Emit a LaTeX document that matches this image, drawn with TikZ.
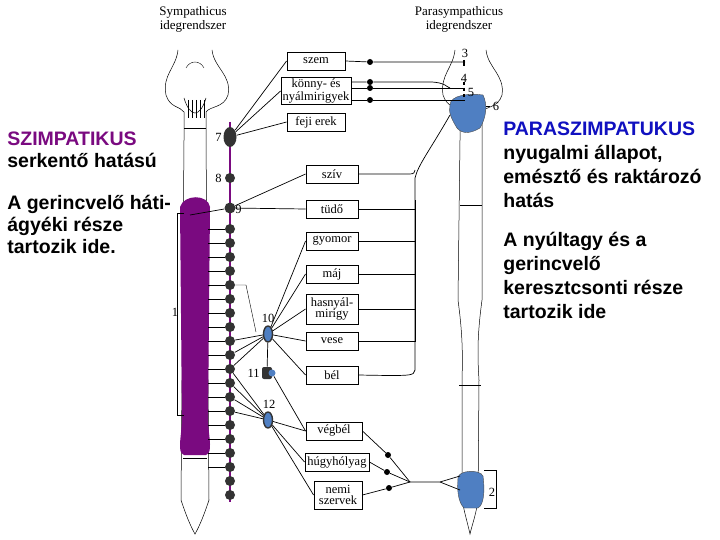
\documentclass[tikz,border=0pt]{standalone}
\usepackage{fontspec}
\usetikzlibrary{shapes.geometric}
\setmainfont{Liberation Serif}
\newfontfamily\arial{Liberation Sans}
\definecolor{purp}{HTML}{7A0A80}
\definecolor{pblue}{HTML}{4F7FC2}
\definecolor{tblue}{HTML}{1010C0}
\begin{document}
\begin{tikzpicture}[x=1pt,y=-1pt,line width=0.7pt,
 org/.style={draw,fill=white,font=\fontsize{12.5}{11}\selectfont,align=center,inner sep=1pt,minimum height=18pt,line width=0.9pt},
 dotn/.style={circle,fill=black,inner sep=0pt,minimum size=6pt},
 cdot/.style={circle,fill=black!80,inner sep=0pt,minimum size=10pt},
 num/.style={font=\fontsize{12.5}{12}\selectfont,inner sep=0pt},
 ttl/.style={font=\fontsize{13}{14}\selectfont,align=center},
 big/.style={font=\arial\bfseries\fontsize{19.5}{22}\selectfont,align=left,anchor=north west,inner sep=0pt}]
\useasboundingbox (0,0) rectangle (720,540);
\fill[white] (0,0) rectangle (720,540);
% titles
\node[ttl] (st) at (193,19) {Sympathicus\\idegrendszer};
\node[ttl] (pt) at (459,19) {Parasympathicus\\idegrendszer};
% left cord
\draw[line width=0.5pt] (178,50) .. controls (176,68) and (162,75) .. (166,95) .. controls (170,108) and (180,106) .. (184,112) -- (184,140) -- (181,500) .. controls (186,515) and (190,525) .. (195,534) .. controls (200,525) and (204,515) .. (209,500) -- (206,140) -- (206,112) .. controls (210,106) and (224,108) .. (228,95) .. controls (232,75) and (214,68) .. (212,50);
\draw[line width=0.4pt] (186,68) .. controls (190,60) and (200,60) .. (204,68);
\draw[line width=0.5pt] (184,98) .. controls (190,118) and (200,118) .. (206,98);
\foreach \x in {188,192,196,200,204}{\draw[line width=0.3pt] (\x,100) -- (\x,118);}
\draw[line width=0.5pt] (184,128) -- (206,128);
\draw[line width=0.8pt] (183,458) -- (207,458);
\fill[purp] (180,207) .. controls (184,194) and (208,194) .. (210,207) -- (208,420) .. controls (209,440) and (213,452) .. (206,455) -- (184,455) .. controls (177,452) and (181,440) .. (182,420) -- cycle;
% bracket 1
\draw[line width=0.4pt] (184,213) -- (177,213) -- (177,415) -- (184,415);
\node[num] (n1) at (175,312) {1};
% chain
\draw[purp,line width=2pt] (230,122) -- (230,502);
\node[cdot,ellipse,minimum width=13pt,minimum height=20pt] (g7) at (230,137) {};
\node[cdot] (g8) at (230,178) {};
\node[cdot,minimum size=11pt] (g9) at (230,208) {};
\node[num,anchor=east] at (222,137) {7};
\node[num,anchor=east] at (222,178) {8};
\node[num,anchor=west] at (235,209) {9};
\foreach \i in {0,...,19}{
  \pgfmathsetmacro\yy{229+\i*14}
  \node[cdot] (c\i) at (230,\yy) {};
}
\foreach \i in {0,...,17}{\draw[line width=0.5pt] (208,229+\i*14) -- (c\i);}
% organ boxes
\node[org,minimum width=58pt] (szem) at (316,61) {szem};
\node[org,minimum width=70pt,inner sep=1pt,minimum height=27pt] (konny) at (316,91) {könny- és\\nyálmirigyek};
\node[org,minimum width=58pt] (feji) at (316,122) {feji erek};
\node[org,minimum width=52pt] (sziv) at (332,174) {szív};
\node[org,minimum width=52pt] (tudo) at (332,209) {tüdő};
\node[org,minimum width=52pt] (gyom) at (332,241) {gyomor};
\node[org,minimum width=52pt] (maj) at (332,274) {máj};
\node[org,minimum width=52pt,inner sep=0.5pt,minimum height=30pt] (hasn) at (332,309) {hasnyál-\\mirigy};
\node[org,minimum width=52pt] (vese) at (332,341) {vese};
\node[org,minimum width=52pt] (bel) at (332,375) {bél};
\node[org,minimum width=56pt] (vegb) at (334,431) {végbél};
\node[org,minimum width=64pt] (hugy) at (337,462) {húgyhólyag};
\node[org,minimum width=48pt,inner sep=0.5pt,minimum height=28pt] (nemi) at (338,495) {nemi\\szervek};
% sympathetic connections from ganglia
\draw (g7) -- (szem.west); \draw (g7) -- (konny.west); \draw (g7) -- (feji.west);
\draw (g9) -- (sziv.west); \draw (g9) -- (tudo.west);
\coordinate (b9) at (190,215); \draw (b9) -- (g9);
% prevertebral ganglia
\node[ellipse,draw=black!80,line width=1.4pt,fill=pblue,minimum width=9pt,minimum height=16pt,inner sep=0pt] (g10) at (268,334) {};
\node[rectangle,rounded corners=2pt,fill=black!80,minimum width=10pt,minimum height=12pt,inner sep=0pt] (g11) at (267,373) {};
\node[circle,fill=pblue,minimum size=7pt,inner sep=0pt] (g11b) at (272,373) {};
\node[ellipse,draw=black!80,line width=1.4pt,fill=pblue,minimum width=9pt,minimum height=16pt,inner sep=0pt] (g12) at (268,420) {};
\node[num] at (268,318) {10};
\node[num,anchor=east] at (260,373) {11};
\node[num] at (269,404) {12};
\draw (g10) -- (gyom.west); \draw (g10) -- (maj.west); \draw (g10) -- (hasn.west); \draw (g10) -- (vese.west); \draw (g10) -- (bel.west);
\foreach \i in {8,9,10}{\draw (c\i) -- (g10);}
\draw[line width=0.4pt] (c4) -- (246,285) -- (256,332);
\draw (g11) -- (g10);
\draw (g11b) -- (vegb.west);
\foreach \i in {10,11,12,13}{\draw (c\i) -- (g12);}
\draw (g12) -- (vegb.west); \draw (g12) -- (hugy.west); \draw (g12) -- (nemi.west);
% right cord
\draw[line width=0.5pt] (455,50) .. controls (453,68) and (440,75) .. (443,95) .. controls (447,108) and (457,106) .. (460,112) -- (460,140) -- (458,300) .. controls (462,330) and (463,350) .. (462,380) -- (462,500) .. controls (465,515) and (468,525) .. (470,534) .. controls (472,525) and (476,515) .. (478,500) -- (479,380) .. controls (477,350) and (478,330) .. (482,300) -- (482,140) -- (482,112) .. controls (486,106) and (498,108) .. (502,95) .. controls (505,75) and (488,68) .. (486,50);
\draw[line width=0.4pt] (459,385) -- (481,385);
\draw[line width=0.4pt] (460,205) -- (482,205);
\fill[pblue,draw=black!70,line width=0.4pt] (450,105) .. controls (450,95) and (470,93) .. (483,95) .. controls (488,105) and (486,118) .. (480,128) .. controls (470,134) and (462,134) .. (457,128) .. controls (452,120) and (448,112) .. (450,105) -- cycle;
\fill[pblue,draw=black!70,line width=0.4pt] (458,478) .. controls (458,470) and (480,469) .. (483,476) .. controls (485,490) and (484,505) .. (478,508) -- (464,508) .. controls (458,502) and (457,490) .. (458,478) -- cycle;
\draw[line width=0.4pt] (484,470) -- (496,470) -- (496,508) -- (484,508);
\node[num] (n2) at (492,492) {2};
\node[num] at (465,53) {3};
\node[num] at (464,78) {4};
\node[num] at (471,92) {5};
\node[num] at (496,106) {6};
\draw[line width=0.4pt] (486,106) -- (490,106);
% parasympathetic head lines
\node[dotn] (d1) at (370,62) {};
\node[dotn] (d2) at (370,82) {};
\node[dotn] (d3) at (370,88) {};
\node[dotn] (d4) at (370,100) {};
\coordinate (p3) at (465,62); \coordinate (p4) at (464,88); \coordinate (p5) at (465,100);
\draw (szem.east) -- (d1) -- (p3);
\draw (konny.east |- d2) -- (d2) -- (430,82) .. controls (445,82) and (448,88) .. (450,88);
\draw (konny.east |- d3) -- (d3) -- (p4);
\draw (konny.east |- d4) -- (d4) -- (p5);
\draw[line width=1.2pt] (464,60) -- (464,66); \draw[line width=1.2pt,dashed] (464,82) -- (464,100);
% vagus bus
\draw (450,115) .. controls (430,150) and (418,165) .. (415,178) -- (415,370) .. controls (414,376) and (412,376) .. (bel.east);
\draw (sziv.east) -- (410,174) .. controls (414,174) and (415,172) .. (415,170);
\foreach \n in {tudo,gyom,maj,hasn,vese}{\draw (\n.east) -| (415,200);}
% sacral
\coordinate (j) at (410,482); \coordinate (j2) at (440,482);
\node[dotn] (s1) at (388,455) {};
\node[dotn] (s2) at (387,472) {};
\node[dotn] (s3) at (389,488) {};
\draw (vegb.east) -- (s1) -- (j);
\draw (hugy.east) -- (s2) -- (j);
\draw (nemi.east) -- (s3) -- (j);
\draw (j) -- (j2) -- (460,476); \draw (j2) -- (460,490);
% side texts
\node[big] (lt) at (7,132) {\textcolor{purp}{SZIMPATIKUS}\\serkentő hatású};
\node[big] (lt2) at (7,195) {A gerincvelő háti-\\ágyéki része\\tartozik ide.};
\node[big,font=\arial\bfseries\fontsize{19.5}{24}\selectfont] (rt) at (503,122) {\textcolor{tblue}{PARASZIMPATUKUS}\\nyugalmi állapot,\\emésztő és raktározó\\hatás};
\node[big,font=\arial\bfseries\fontsize{19.5}{24}\selectfont] (rt2) at (503,232) {A nyúltagy és a\\gerincvelő\\keresztcsonti része\\tartozik ide};
\end{tikzpicture}
\end{document}
